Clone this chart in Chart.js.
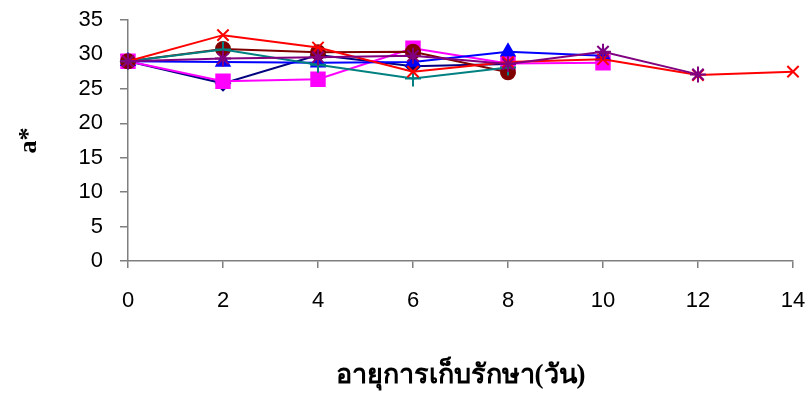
<!DOCTYPE html>
<html>
<head>
<meta charset="utf-8">
<script src="https://cdn.jsdelivr.net/npm/chart.js@4/dist/chart.umd.min.js"></script>
<style>
  html, body { margin: 0; padding: 0; background: #ffffff; }
  #wrap { width: 810px; height: 394px; }
</style>
</head>
<body>
<div id="wrap"><canvas id="c" width="810" height="394"></canvas></div>
<script>
// Storage time (days) and a* colour values for each treatment
const days = [0, 2, 4, 6, 8, 10, 12, 14];
const seriesRed     = [29.0, 32.8, 31.0, 27.5, 28.9, 29.3, 27.0, 27.5];
const seriesPurple  = [29.0, 29.4, 29.6, 29.8, 28.6, 30.4, 27.1];
const seriesTeal    = [29.0, 30.7, 28.5, 26.5, 28.1];
const seriesDarkRed = [29.0, 30.8, 30.3, 30.4, 27.4];
const seriesBlue    = [29.0, 28.9, 28.8, 28.9, 30.4, 29.8];
const seriesMagenta = [29.0, 26.1, 26.4, 30.9, 28.7, 28.8];
const seriesNavy    = [29.0, 25.8, 29.9, 28.3, 28.6];
const yTicks = [0, 5, 10, 15, 20, 25, 30, 35];

const toPoints = vals => vals.map((v, i) => ({ x: days[i], y: v }));

function ds(vals, color, style, radius) {
  return {
    data: toPoints(vals),
    borderColor: color,
    backgroundColor: color,
    borderWidth: 2,
    pointStyle: style,
    pointRadius: radius,
    pointHoverRadius: radius,
    pointBorderColor: color,
    pointBackgroundColor: color,
    pointBorderWidth: 2,
    tension: 0,
    fill: false,
    clip: false
  };
}

const axisGray = '#7f7f7f';
const tickFont = { family: "'Liberation Sans', Arial, sans-serif", size: 22 };
const titleFont = { family: "'Liberation Serif', 'Times New Roman', serif", size: 26, weight: 'bold' };

new Chart(document.getElementById('c'), {
  type: 'line',
  data: {
    datasets: [
      ds(seriesPurple,  '#800080', 'star',     8),
      ds(seriesRed,     '#FF0000', 'crossRot', 8),
      ds(seriesTeal,    '#008080', 'cross',    8),
      ds(seriesDarkRed, '#800000', 'circle',   7),
      ds(seriesBlue,    '#0000FF', 'triangle', 7.5),
      ds(seriesMagenta, '#FF00FF', 'rect',     9.5),
      ds(seriesNavy,    '#000080', 'rectRot',  7)
    ]
  },
  options: {
    responsive: false,
    animation: false,
    events: [],
    layout: { padding: { top: 20, right: 17, bottom: 0, left: 0 } },
    plugins: { legend: { display: false }, tooltip: { enabled: false } },
    scales: {
      x: {
        type: 'linear',
        min: 0, max: 14,
        ticks: { stepSize: 2, color: '#000', font: tickFont, padding: 20, maxRotation: 0 },
        grid: { drawOnChartArea: false, color: axisGray, tickLength: 7, lineWidth: 1.5 },
        border: { color: axisGray, width: 1.5 },
        title: { display: true, text: 'อายุการเก็บรักษา(วัน)', color: '#000', font: { ...titleFont, size: 27 }, padding: { top: 0, bottom: 2 } },
        afterFit: s => { s.height = 133; s.paddingLeft = 0; s.paddingRight = 0; }
      },
      y: {
        min: 0, max: 35,
        afterBuildTicks: s => { s.ticks = yTicks.map(v => ({ value: v })); },
        ticks: { color: '#000', font: tickFont, padding: 17 },
        grid: { drawOnChartArea: false, color: axisGray, tickLength: 8, lineWidth: 1.5 },
        border: { color: axisGray, width: 1.5 },
        title: { display: true, text: 'a*', color: '#000', font: titleFont, padding: { top: 14, bottom: 0 } },
        afterFit: s => { s.width = 128; s.paddingTop = 0; s.paddingBottom = 0; }
      }
    }
  }
});
</script>
</body>
</html>
